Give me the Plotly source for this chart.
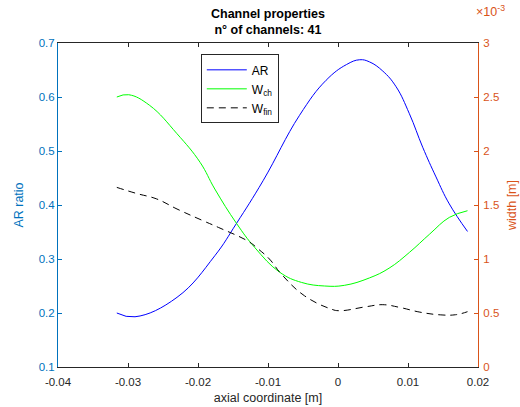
import plotly.graph_objects as go

# AR ratio (left axis)
x_ar = [-0.0316, -0.0290, -0.0230, -0.0176, -0.0145, -0.0107, -0.0055, -0.0017,
        0.0012, 0.0031, 0.0045, 0.0064, 0.0083, 0.0102, 0.0121, 0.0140,
        0.0159, 0.0185]
ar = [0.200, 0.193, 0.229, 0.306, 0.366, 0.445, 0.566, 0.631,
      0.660, 0.669, 0.665, 0.648, 0.619, 0.569, 0.507, 0.452,
      0.402, 0.351]

# channel width W_ch (right axis, units of 1e-3 m)
x_ch = [-0.0316, -0.0299, -0.0269, -0.0230, -0.0197, -0.0176, -0.0145, -0.0119,
        -0.0083, -0.0052, -0.0019, 0.0009, 0.0045, 0.0073, 0.0102, 0.0131,
        0.0159, 0.0185]
w_ch = [2.500, 2.521, 2.422, 2.160, 1.895, 1.648, 1.330, 1.107,
        0.876, 0.783, 0.750, 0.756, 0.825, 0.915, 1.061, 1.231,
        1.385, 1.447]

# fin width W_fin (right axis, units of 1e-3 m)
x_fin = [-0.0316, -0.0288, -0.0259, -0.0230, -0.0193, -0.0171, -0.0128, -0.0114,
         -0.0098, -0.0081, -0.0048, -0.0010, 0.0002, 0.0040, 0.0064, 0.0088,
         0.0117, 0.0146, 0.0168, 0.0185]
w_fin = [1.663, 1.607, 1.556, 1.463, 1.355, 1.293, 1.163, 1.093,
         1.000, 0.861, 0.660, 0.537, 0.521, 0.558, 0.577, 0.552,
         0.508, 0.483, 0.484, 0.512]

x_ticks = [-0.04, -0.03, -0.02, -0.01, 0, 0.01, 0.02]
x_ticktext = ["-0.04", "-0.03", "-0.02", "-0.01", "0", "0.01", "0.02"]
yl_ticks = [0.1, 0.2, 0.3, 0.4, 0.5, 0.6, 0.7]
yr_ticks = [0, 0.5, 1, 1.5, 2, 2.5, 3]
yr_ticktext = ["0", "0.5", "1", "1.5", "2", "2.5", "3"]

BLUE_AX = "#0072BD"
ORANGE_AX = "#D95319"
GRAY = "#262626"
FONT = "Liberation Sans, Arial, sans-serif"

fig = go.Figure()
fig.add_trace(go.Scatter(x=x_ar, y=ar, mode="lines", name="AR",
                         line=dict(color="#0000FF", width=1, shape="spline",
                                   smoothing=1.2)))
fig.add_trace(go.Scatter(x=x_ch, y=w_ch, mode="lines", name="W<sub>ch</sub>",
                         yaxis="y2",
                         line=dict(color="#00FF00", width=1, shape="spline",
                                   smoothing=1.2)))
fig.add_trace(go.Scatter(x=x_fin, y=w_fin, mode="lines", name="W<sub>fin</sub>",
                         yaxis="y2",
                         line=dict(color="#000000", width=1, shape="spline",
                                   smoothing=1.2, dash="7px,5px")))

fig.update_layout(
    width=520, height=407,
    margin=dict(l=58, r=42, t=43, b=40),
    paper_bgcolor="white", plot_bgcolor="white",
    font=dict(family=FONT, size=11.5, color=GRAY),
    showlegend=True,
    legend=dict(x=0.34, y=0.965, xanchor="left", yanchor="top",
                bordercolor="#262626", borderwidth=1, bgcolor="white",
                font=dict(size=12, color="#000000"),
                tracegroupgap=0, itemwidth=40),
    xaxis=dict(range=[-0.04, 0.02], tickvals=x_ticks, ticktext=x_ticktext,
               ticks="inside", ticklen=4, tickcolor=GRAY,
               showline=True, linecolor=GRAY, linewidth=1, mirror="ticks",
               showgrid=False, zeroline=False, ticklabelstandoff=4,
               automargin=False,
               title=dict(text="axial coordinate [m]", standoff=6,
                          font=dict(size=12.5, color=GRAY))),
    yaxis=dict(range=[0.1, 0.7], tickvals=yl_ticks, ticks="inside", ticklen=4,
               tickcolor=BLUE_AX, showline=True, linecolor=BLUE_AX, linewidth=1,
               showgrid=False, zeroline=False, automargin=False,
               tickfont=dict(color=BLUE_AX),
               title=dict(text="AR ratio", standoff=12,
                          font=dict(size=12.5, color=BLUE_AX))),
    yaxis2=dict(range=[0, 3], tickvals=yr_ticks, ticktext=yr_ticktext,
                overlaying="y", side="right", ticks="inside", ticklen=4,
                tickcolor=ORANGE_AX, showline=True, linecolor=ORANGE_AX,
                linewidth=1, showgrid=False, zeroline=False, automargin=False,
                tickfont=dict(color=ORANGE_AX), ticklabelstandoff=2,
                title=dict(text="width [m]", standoff=8,
                           font=dict(size=12.5, color=ORANGE_AX))),
    annotations=[
        dict(text="<b>Channel properties<br>n° of channels: 41</b>",
             xref="paper", yref="paper", x=0.5, y=1.0,
             xanchor="center", yanchor="bottom", yshift=4, showarrow=False,
             font=dict(size=12.5, color="#000000")),
        dict(text="×10<sup>-3</sup>", xref="paper", yref="paper",
             x=1.0, y=1.0, xanchor="left", yanchor="bottom",
             xshift=-4, yshift=22, showarrow=False,
             font=dict(size=12.5, color=ORANGE_AX)),
    ],
)

fig.write_html("out.html")
